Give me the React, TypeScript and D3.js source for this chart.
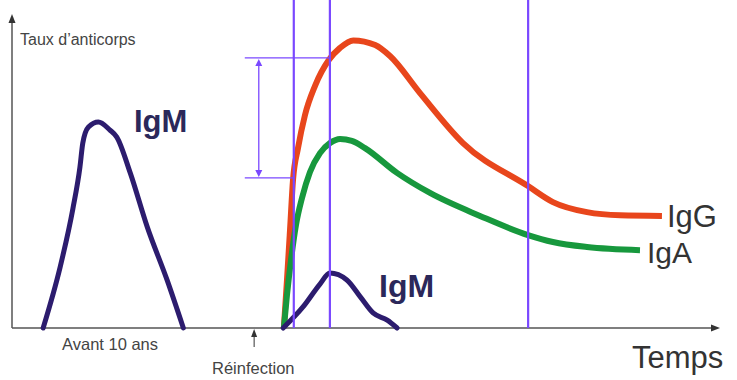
import React from "react";
import * as d3 from "d3";

// Time axis (0..100) and antibody level (0..100), arbitrary units
const igmPrimaryT = [4.4, 6.8, 8.6, 9.6, 10.0, 10.8, 12.2, 13.8, 14.8, 16.7, 19.1, 21.9, 24.2];
const igmPrimaryV = [0, 19.4, 38.0, 51.3, 58.9, 64.0, 65.6, 63.1, 60.8, 49.4, 32.2, 15.3, 0];

const iggT = [38.4, 38.84, 39.27, 39.69, 40.4, 41.38, 42.8, 44.77, 46.33, 48.2, 51.3, 53.39, 57.63, 63.7, 72.88, 76.4, 81.21, 85.9, 91.8];
const iggV = [0, 15.3, 31.2, 47.1, 57.3, 67.8, 77.1, 85.4, 89.2, 91.6, 90.1, 86.6, 74.8, 58.9, 45.2, 40.1, 36.9, 35.9, 35.7];

const igaT = [38.4, 38.84, 39.41, 40.11, 40.96, 42.09, 43.5, 44.92, 46.33, 48.0, 49.86, 54.38, 59.04, 66.1, 72.88, 76.4, 81.21, 88.7];
const igaV = [0, 10.5, 21.7, 32.8, 41.4, 49.7, 55.7, 58.9, 60.2, 59.6, 57.3, 49.4, 43.0, 35.7, 29.6, 27.4, 25.8, 24.8];

const igmSecondaryT = [38.3, 41.1, 43.5, 44.9, 47.3, 49.2, 51.0, 53.0, 54.4];
const igmSecondaryV = [0, 6.7, 14.0, 17.5, 15.3, 9.9, 4.8, 2.5, 0];

const markerTimes = [39.8, 44.9, 72.9];
const markerLevels = [86.0, 47.8];
const reinfectionTime = 34.2;

const W = 737;
const H = 380;

const x = d3.scaleLinear().domain([0, 100]).range([12, 720]);
const y = d3.scaleLinear().domain([0, 100]).range([328, 14]);

const zip = (ts: number[], vs: number[]) => ts.map((t, i) => [t, vs[i]] as [number, number]);
const lineGen = d3
  .line<[number, number]>()
  .x((d) => x(d[0]))
  .y((d) => y(d[1]))
  .curve(d3.curveMonotoneX);

const RED = "#e8461c";
const GREEN = "#17983d";
const NAVY = "#2c1c6e";
const PURPLE = "#7a48ff";
const GRAY = "#555";
const FONT = "'Liberation Sans', Arial, sans-serif";

export default function App() {
  const x0 = x(0);
  const y0 = y(0);
  const xEnd = x(100);
  const yTop = y(100);
  const arrowX = x(markerTimes[0]) - 35;
  return (
    <>
      <style>{`body{margin:0}`}</style>
      <svg width={W} height={H} style={{ display: "block", background: "#fff" }}>
        {/* axes */}
        <line x1={x0} y1={y0} x2={xEnd - 6} y2={y0} stroke={GRAY} strokeWidth={1.5} />
        <path d={`M${xEnd - 9},${y0 - 3.5} L${xEnd},${y0} L${xEnd - 9},${y0 + 3.5} Z`} fill="#333" />
        <line x1={x0} y1={y0} x2={x0} y2={yTop + 6} stroke={GRAY} strokeWidth={1.5} />
        <path d={`M${x0 - 3.5},${yTop + 9} L${x0},${yTop} L${x0 + 3.5},${yTop + 9} Z`} fill="#333" />

        {/* curves */}
        <path d={lineGen(zip(igmPrimaryT, igmPrimaryV)) || ""} fill="none" stroke={NAVY} strokeWidth={5} strokeLinecap="round" strokeLinejoin="round" />
        <path d={lineGen(zip(iggT, iggV)) || ""} fill="none" stroke={RED} strokeWidth={6} strokeLinejoin="round" />
        <path d={lineGen(zip(igaT, igaV)) || ""} fill="none" stroke={GREEN} strokeWidth={6} strokeLinejoin="round" />
        <path d={lineGen(zip(igmSecondaryT, igmSecondaryV)) || ""} fill="none" stroke={NAVY} strokeWidth={5} strokeLinecap="round" strokeLinejoin="round" />

        {/* purple markers */}
        {markerTimes.map((t, i) => (
          <line key={i} x1={x(t)} x2={x(t)} y1={0} y2={y0} stroke={PURPLE} strokeWidth={2.2} />
        ))}
        <line x1={arrowX - 14} x2={x(markerTimes[1])} y1={y(markerLevels[0])} y2={y(markerLevels[0])} stroke={PURPLE} strokeWidth={1.3} />
        <line x1={arrowX - 14} x2={x(markerTimes[0])} y1={y(markerLevels[1])} y2={y(markerLevels[1])} stroke={PURPLE} strokeWidth={1.3} />
        <line x1={arrowX} x2={arrowX} y1={y(markerLevels[0]) + 6} y2={y(markerLevels[1]) - 6} stroke={PURPLE} strokeWidth={1.3} />
        <path d={`M${arrowX - 3.5},${y(markerLevels[0]) + 8} L${arrowX},${y(markerLevels[0]) + 1} L${arrowX + 3.5},${y(markerLevels[0]) + 8} Z`} fill={PURPLE} />
        <path d={`M${arrowX - 3.5},${y(markerLevels[1]) - 8} L${arrowX},${y(markerLevels[1]) - 1} L${arrowX + 3.5},${y(markerLevels[1]) - 8} Z`} fill={PURPLE} />

        {/* reinfection arrow */}
        <line x1={x(reinfectionTime)} x2={x(reinfectionTime)} y1={347} y2={335} stroke="#333" strokeWidth={1} />
        <path d={`M${x(reinfectionTime) - 3},${337} L${x(reinfectionTime)},${329} L${x(reinfectionTime) + 3},${337} Z`} fill="#333" />

        {/* texts */}
        <text x={20} y={45} fontFamily={FONT} fontSize={16} fill="#444">Taux d’anticorps</text>
        <text x={62} y={350} fontFamily={FONT} fontSize={16.5} fill="#444">Avant 10 ans</text>
        <text x={212} y={374} fontFamily={FONT} fontSize={16.5} fill="#444">Réinfection</text>
        <text x={632} y={368} fontFamily={FONT} fontSize={31} fill="#333">Temps</text>
        <text x={667} y={227} fontFamily={FONT} fontSize={31} fill="#333">IgG</text>
        <text x={647} y={263} fontFamily={FONT} fontSize={30} fill="#333">IgA</text>
        <text x={134} y={132} fontFamily={FONT} fontSize={31} fontWeight="bold" fill="#2b285a">IgM</text>
        <text x={379} y={297} fontFamily={FONT} fontSize={32} fontWeight="bold" fill="#2b285a">IgM</text>
      </svg>
    </>
  );
}
